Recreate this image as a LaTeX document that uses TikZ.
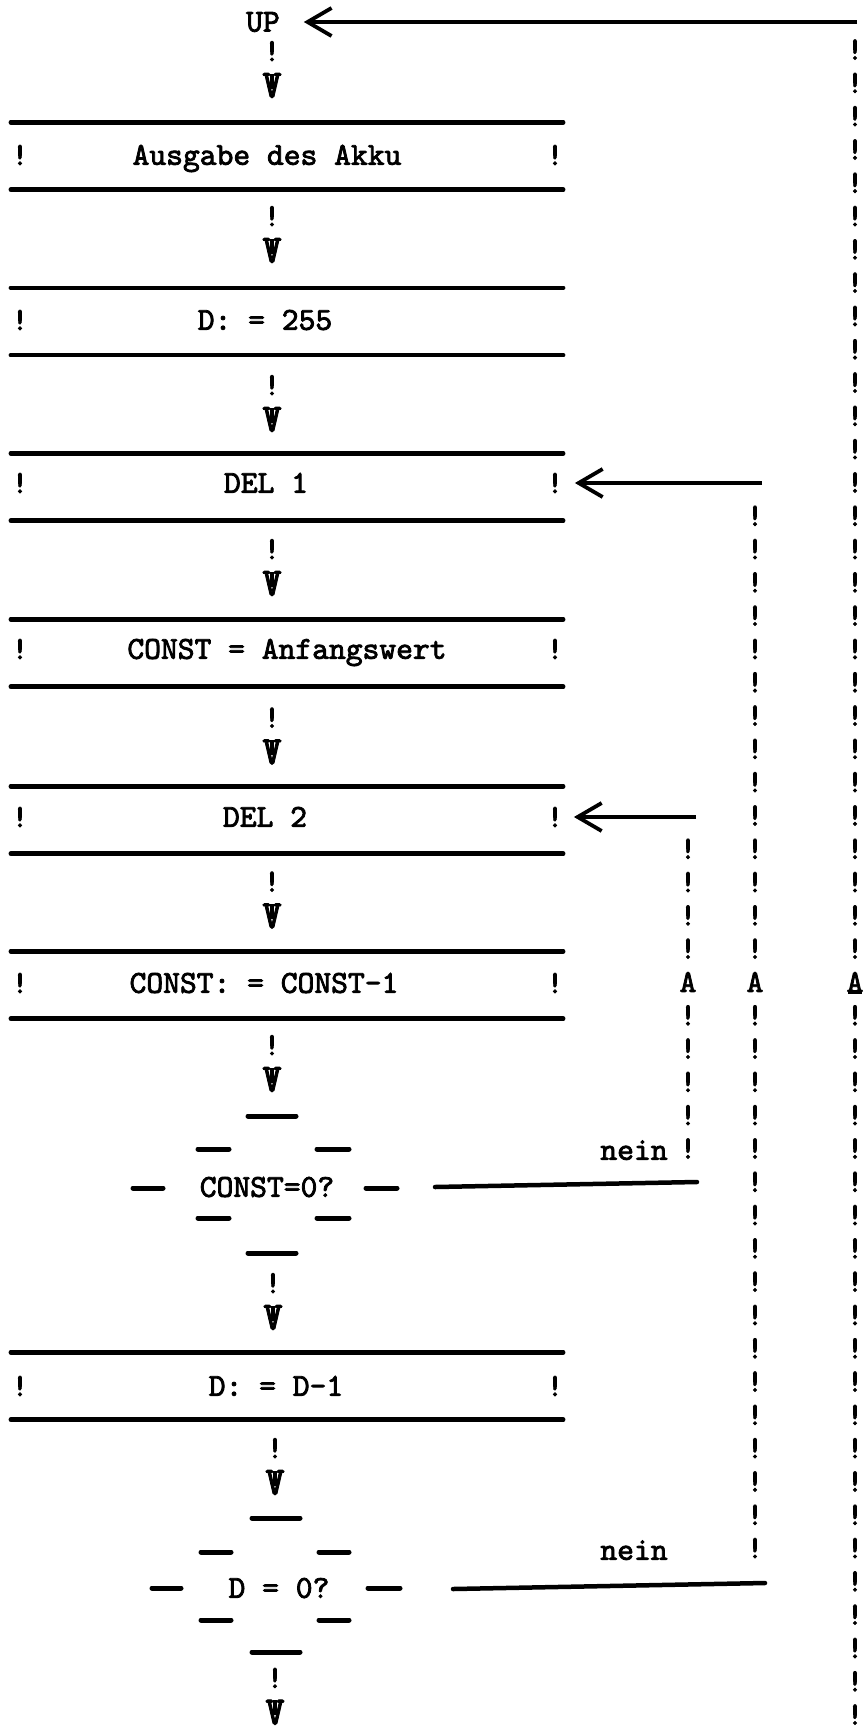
\documentclass[tikz,border=0pt]{standalone}
\usepackage{graphicx}
\usetikzlibrary{arrows.meta}
\font\twfont="[lmmono10-regular]:embolden=2.5" at 32pt
\newcommand\twarrowglyph{\makebox[0pt]{\scalebox{1.15}[1.25]{V}}\makebox[0pt]{\rule[9pt]{3.2pt}{15pt}}}
\newcommand\twflow{\vbox{\offinterlineskip\hbox to 0pt{\hss!\hss}\kern 12pt\hbox to 0pt{\hss\twarrowglyph\hss}}}
\begin{document}
\begin{tikzpicture}[x=1pt,y=-1pt,
  tw/.style={font=\twfont, inner sep=0pt, outer sep=0pt},
  txt/.style={tw, anchor=base},
  flow/.style={tw, anchor=north},
  boxn/.style={draw=none, inner sep=0pt, minimum width=552pt, minimum height=67pt},
  bar/.style={line width=4.5pt, line cap=round},
  dbar/.style={line width=5pt, line cap=round},
  larrow/.style={line width=4.5pt, -{Straight Barb[length=24pt,width=28pt,line width=3.8pt]}},
]
\path[fill=white] (0,0) rectangle (867,1731);
\useasboundingbox (0,0) rectangle (867,1731);

% ---------- start ----------
\node[tw] (up) at (263,22) {UP};
\node[flow] (f0) at (272,41.2) {\twflow};

% ---------- box 1 ----------
\node[boxn] (b1) at (287,156) {};
\draw[bar] (b1.north west) -- (b1.north east);
\draw[bar] (b1.south west) -- (b1.south east);
\node[tw] (b1l) at (20,155) {!};
\node[tw] (b1r) at (555,155) {!};
\node[txt] (t1) at (267,164.8) {Ausgabe des Akku};

\node[flow] (f1) at (272,206.2) {\twflow};

% ---------- box 2 ----------
\node[boxn] (b2) at (287,321.5) {};
\draw[bar] (b2.north west) -- (b2.north east);
\draw[bar] (b2.south west) -- (b2.south east);
\node[tw] (b2l) at (20,320) {!};
\node[txt] (t2) at (265,329.8) {D: = 255};

\node[flow] (f2) at (272,375.2) {\twflow};

% ---------- box 3 ----------
\node[boxn] (b3) at (287,487) {};
\draw[bar] (b3.north west) -- (b3.north east);
\draw[bar] (b3.south west) -- (b3.south east);
\node[tw] (b3l) at (20,483) {!};
\node[tw] (b3r) at (555,483) {!};
\node[txt] (t3) at (266,492.8) {DEL 1};

\node[flow] (f3) at (272,539.2) {\twflow};

% ---------- box 4 ----------
\node[boxn] (b4) at (287,653) {};
\draw[bar] (b4.north west) -- (b4.north east);
\draw[bar] (b4.south west) -- (b4.south east);
\node[tw] (b4l) at (20,649) {!};
\node[tw] (b4r) at (555,649) {!};
\node[txt] (t4) at (287,658.8) {CONST = Anfangswert};

\node[flow] (f4) at (272,707.7) {\twflow};

% ---------- box 5 ----------
\node[boxn] (b5) at (287,820) {};
\draw[bar] (b5.north west) -- (b5.north east);
\draw[bar] (b5.south west) -- (b5.south east);
\node[tw] (b5l) at (20,817) {!};
\node[tw] (b5r) at (555,817) {!};
\node[txt] (t5) at (265,826.8) {DEL 2};

\node[flow] (f5) at (272,871.7) {\twflow};

% ---------- box 6 ----------
\node[boxn] (b6) at (287,985) {};
\draw[bar] (b6.north west) -- (b6.north east);
\draw[bar] (b6.south west) -- (b6.south east);
\node[tw] (b6l) at (20,983) {!};
\node[tw] (b6r) at (555,983) {!};
\node[txt] (t6) at (264,992.8) {CONST: = CONST-1};

\node[flow] (f6) at (272,1035.2) {\twflow};

% ---------- decision 1 ----------
\node[txt] (d1) at (267,1196.8) {CONST=0?};
\draw[dbar] (248,1116) -- (296,1116);
\draw[dbar] (198,1149) -- (229,1149);
\draw[dbar] (317,1149) -- (349,1149);
\draw[dbar] (133,1188) -- (163,1188);
\draw[dbar] (366,1188) -- (397,1188);
\draw[dbar] (198,1218) -- (229,1218);
\draw[dbar] (317,1218) -- (349,1218);
\draw[dbar] (248,1253) -- (296,1253);

\node[flow] (f7) at (273,1273.2) {\twflow};

% ---------- box 7 ----------
\node[boxn] (b7) at (287,1386) {};
\draw[bar] (b7.north west) -- (b7.north east);
\draw[bar] (b7.south west) -- (b7.south east);
\node[tw] (b7l) at (20,1386) {!};
\node[tw] (b7r) at (555,1386) {!};
\node[txt] (t7) at (276,1395.8) {D: = D-1};

\node[flow] (f8) at (275,1438.2) {\twflow};

% ---------- decision 2 ----------
\node[txt] (d2) at (279,1597.8) {D = 0?};
\draw[dbar] (252,1518) -- (300,1518);
\draw[dbar] (201,1552) -- (231,1552);
\draw[dbar] (319,1552) -- (349,1552);
\draw[dbar] (152,1588) -- (181,1588);
\draw[dbar] (368,1588) -- (400,1588);
\draw[dbar] (201,1620) -- (231,1620);
\draw[dbar] (319,1620) -- (349,1620);
\draw[dbar] (252,1652) -- (300,1652);

\node[flow] (f9) at (275,1668) {\twflow};

% ---------- loop columns ----------
% column 1 (CONST loop -> DEL 2)
\foreach \k in {-4,-3,-2,-1,1,2,3,4,5}
  \node[tw] (c1n\k) at (688,{982+33.3*\k}) {!};
\node[tw] (c1arr) at (688,982) {A};
% column 2 (D loop -> DEL 1)
\foreach \k in {-14,-13,...,-1,1,2,...,17}
  \node[tw] (c2n\k) at (755,{982+33.3*\k}) {!};
\node[tw] (c2arr) at (755,982) {A};
% column 3 (back to UP)
\foreach \k in {-28,-27,...,-1,1,2,...,22}
  \node[tw] (c3n\k) at (855,{982+33.3*\k}) {!};
\node[tw] (c3arr) at (855,982) {A};
\draw[line width=3.5pt] ([xshift=1pt]c3arr.south west) -- ([xshift=-1pt]c3arr.south east);

% ---------- horizontal connectors ----------
\coordinate (c3corner) at (857,22);
\coordinate (c2corner) at (762,483);
\coordinate (c1corner) at (696,817);
\draw[larrow, shorten >=24pt] (c3corner) -- (up);
\draw[larrow, shorten >=11.5pt] (c2corner) -- (b3r);
\draw[larrow, shorten >=10.5pt] (c1corner) -- (b5r);

\coordinate (n1s) at (435,1187);
\coordinate (n1e) at (697,1182);
\draw[bar] (n1s) -- (n1e);
\node[txt] (nein1) at (634,1159.8) {nein};

\coordinate (n2s) at (453,1589);
\coordinate (n2e) at (765,1583);
\draw[bar] (n2s) -- (n2e);
\node[txt] (nein2) at (634,1559.8) {nein};
\end{tikzpicture}
\end{document}
